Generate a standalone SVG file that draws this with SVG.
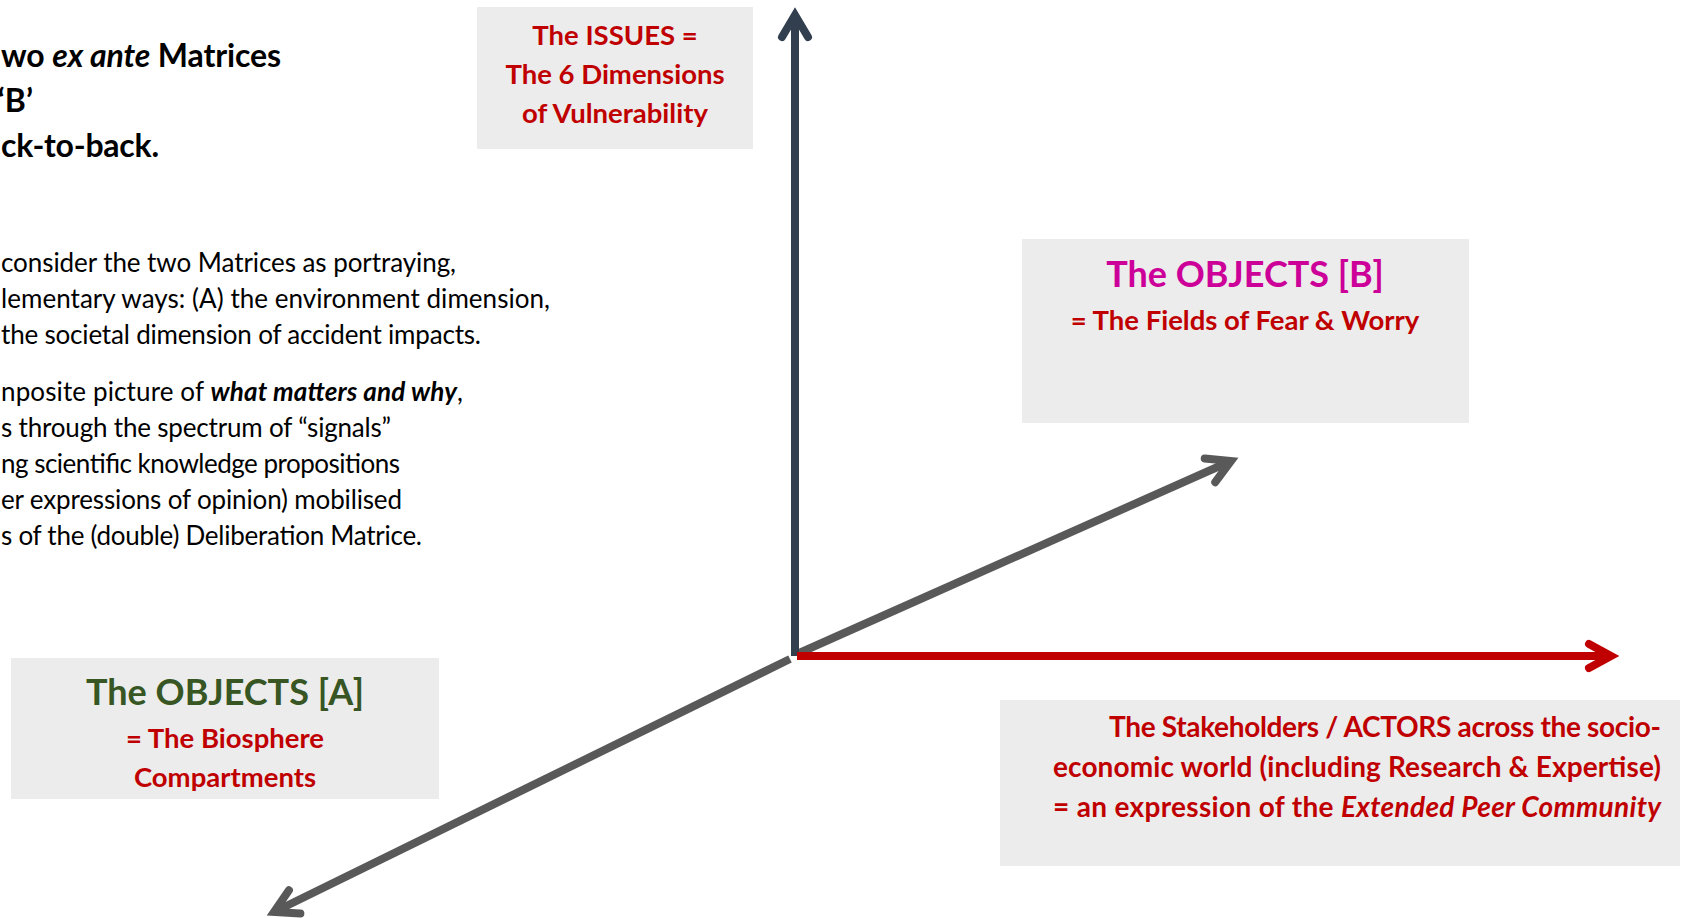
<svg xmlns="http://www.w3.org/2000/svg" width="1683" height="918" viewBox="0 0 1683 918">
<style>
text{font-family:Lato,"Open Sans","Liberation Sans",sans-serif}
.hd{font-size:32px;font-weight:700;fill:#000}
.p{font-size:26px;fill:#000}
.box{fill:#ECECEC}
.red{fill:#C00000;font-weight:700}
.s27{font-size:27.5px}
.s28{font-size:28px}
.t36{font-size:36px;font-weight:700}
.bi{font-style:italic;font-weight:700}
.ax{fill:none;stroke-width:8}
</style>
<defs>
<marker id="ahDark" markerUnits="userSpaceOnUse" markerWidth="60" markerHeight="60" refX="0" refY="0" viewBox="-30 -30 60 60" orient="auto" overflow="visible"><path d="M-22,-13 L0,0 L-22,13" fill="none" stroke="#323F4F" stroke-width="8" stroke-linecap="round" stroke-linejoin="miter"/></marker>
<marker id="ahGray" markerUnits="userSpaceOnUse" markerWidth="60" markerHeight="60" refX="0" refY="0" viewBox="-30 -30 60 60" orient="auto" overflow="visible"><path d="M-23,-13 L0,0 L-23,13" fill="none" stroke="#595959" stroke-width="8" stroke-linecap="round" stroke-linejoin="miter"/></marker>
<marker id="ahRed" markerUnits="userSpaceOnUse" markerWidth="60" markerHeight="60" refX="0" refY="0" viewBox="-30 -30 60 60" orient="auto" overflow="visible"><path d="M-22,-12 L0,0 L-22,12" fill="none" stroke="#C00000" stroke-width="8" stroke-linecap="round" stroke-linejoin="miter"/></marker>
</defs>
<rect width="1683" height="918" fill="#fff"/>

<g id="intro">
<text class="hd" x="1" y="67" textLength="280">wo <tspan font-style="italic">ex ante</tspan> Matrices</text>
<text class="hd" x="33" y="112" text-anchor="end">‘B’</text>
<text class="hd" x="1" y="157" textLength="158">ck-to-back.</text>
<text class="p" x="1" y="272" textLength="455">consider the two Matrices as portraying,</text>
<text class="p" x="1" y="308" textLength="549">lementary ways: (A) the environment dimension,</text>
<text class="p" x="1" y="344" textLength="480">the societal dimension of accident impacts.</text>
<text class="p" x="1" y="401" textLength="462">nposite picture of <tspan class="bi">what matters and why</tspan>,</text>
<text class="p" x="1" y="437" textLength="390">s through the spectrum of “signals”</text>
<text class="p" x="1" y="473" textLength="399">ng scientific knowledge propositions</text>
<text class="p" x="1" y="509" textLength="401">er expressions of opinion) mobilised</text>
<text class="p" x="1" y="545" textLength="421">s of the (double) Deliberation Matrice.</text>
</g>

<g id="connectors">
<line class="ax" x1="797" y1="654" x2="1231" y2="461" stroke="#595959" marker-end="url(#ahGray)"/>
<line class="ax" x1="790" y1="659" x2="274" y2="912" stroke="#595959" marker-end="url(#ahGray)"/>
<line class="ax" x1="795" y1="656" x2="795" y2="15" stroke="#323F4F" marker-end="url(#ahDark)"/>
<line class="ax" x1="797" y1="656" x2="1611" y2="656" stroke="#C00000" marker-end="url(#ahRed)"/>
</g>

<g id="issues">
<rect class="box" x="477" y="7" width="276" height="142"/>
<text class="red s27" x="615" y="45" text-anchor="middle">The ISSUES =</text>
<text class="red s27" x="615" y="84" text-anchor="middle">The 6 Dimensions</text>
<text class="red s27" x="615" y="123" text-anchor="middle">of Vulnerability</text>
</g>

<g id="objectsB">
<rect class="box" x="1022" y="239" width="447" height="184"/>
<text class="t36" x="1245" y="287" text-anchor="middle" fill="#CC0099">The OBJECTS [B]</text>
<text class="red s27" x="1245" y="330" text-anchor="middle">= The Fields of Fear &amp; Worry</text>
</g>

<g id="objectsA">
<rect class="box" x="11" y="658" width="428" height="141"/>
<text class="t36" x="225" y="705" text-anchor="middle" fill="#375623">The OBJECTS [A]</text>
<text class="red s27" x="225" y="748" text-anchor="middle">= The Biosphere</text>
<text class="red s27" x="225" y="787" text-anchor="middle">Compartments</text>
</g>

<g id="actors">
<rect class="box" x="1000" y="700" width="680" height="166"/>
<text class="red s28" x="1661" y="737" text-anchor="end" textLength="552">The Stakeholders / ACTORS across the socio-</text>
<text class="red s28" x="1661" y="777" text-anchor="end" textLength="608">economic world (including Research &amp; Expertise)</text>
<text class="red s28" x="1661" y="817" text-anchor="end" textLength="608">= an expression of the <tspan font-style="italic">Extended Peer Community</tspan></text>
</g>
</svg>
